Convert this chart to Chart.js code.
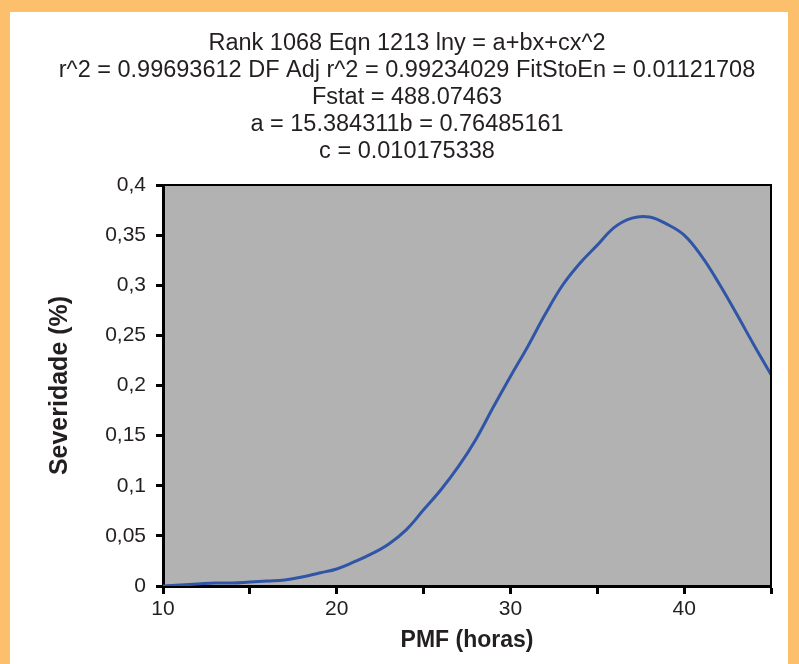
<!DOCTYPE html>
<html>
<head>
<meta charset="utf-8">
<script src="https://cdn.jsdelivr.net/npm/chart.js@4.4.1/dist/chart.umd.min.js"></script>
<style>
  html, body { margin: 0; padding: 0; }
  body { width: 799px; height: 664px; background: #fcbf6b; position: relative; overflow: hidden; }
  #panel { position: absolute; left: 10px; top: 12px; width: 778px; height: 652px; background: #fff; }
  #c { position: absolute; left: 0; top: 0; }
</style>
</head>
<body>
<div id="panel"></div>
<canvas id="c" width="799" height="664"></canvas>
<script>
const titleLines = [
  'Rank 1068 Eqn 1213 lny = a+bx+cx^2',
  'r^2 = 0.99693612 DF Adj r^2 = 0.99234029 FitStoEn = 0.01121708',
  'Fstat = 488.07463',
  'a = 15.384311b = 0.76485161',
  'c = 0.010175338'
];

// PMF (horas)
const pmf = [10, 11, 12, 13, 14, 15, 16, 17, 18, 19, 20, 21, 22, 23, 24, 25, 26, 27,
  28, 29, 30, 31, 32, 33, 34, 35, 36, 37, 38, 39, 40, 41, 42, 43, 44, 45];
// Severidade (%)
const severidade = [0.000, 0.001, 0.002, 0.003, 0.003, 0.004, 0.005, 0.006, 0.009, 0.013,
  0.017, 0.024, 0.032, 0.042, 0.056, 0.076, 0.096, 0.119, 0.146, 0.178, 0.209, 0.239,
  0.271, 0.300, 0.322, 0.340, 0.358, 0.367, 0.368, 0.361, 0.350, 0.329, 0.302, 0.272,
  0.241, 0.211];

const xTickLabels = ['10', '', '20', '', '30', '', '40', ''];
const yTickLabels = ['0', '0,05', '0,1', '0,15', '0,2', '0,25', '0,3', '0,35', '0,4'];

const FONT = "'Liberation Sans', Arial, sans-serif";
const TEXT = '#231f20';

const plotFrame = {
  id: 'plotFrame',
  beforeDraw(chart) {
    const {ctx, chartArea: a} = chart;
    ctx.save();
    ctx.fillStyle = '#b2b2b2';
    ctx.fillRect(a.left, a.top, a.right - a.left, a.bottom - a.top);
    ctx.restore();
  },
  afterDraw(chart) {
    const {ctx, chartArea: a} = chart;
    ctx.save();
    ctx.strokeStyle = '#000';
    ctx.lineWidth = 2;
    ctx.beginPath();
    ctx.moveTo(a.left, a.top);
    ctx.lineTo(a.right, a.top);
    ctx.lineTo(a.right, a.bottom);
    ctx.stroke();
    ctx.restore();
  }
};

new Chart(document.getElementById('c'), {
  type: 'line',
  data: {
    datasets: [{
      data: pmf.map((x, i) => ({x: x, y: severidade[i]})),
      borderColor: '#3155a6',
      borderWidth: 3,
      pointRadius: 0,
      tension: 0.4,
      fill: false
    }]
  },
  options: {
    responsive: false,
    animation: false,
    layout: { padding: { left: 15, right: 0 } },
    plugins: {
      legend: { display: false },
      tooltip: { enabled: false },
      title: {
        display: true,
        text: titleLines,
        color: TEXT,
        font: { family: FONT, size: 23.5, weight: 'normal', lineHeight: '27px' },
        padding: { top: 30, bottom: 20 }
      }
    },
    scales: {
      x: {
        type: 'linear',
        min: 10,
        max: 45,
        afterFit(scale) { scale.height = 78; },
        ticks: {
          stepSize: 5,
          autoSkip: false,
          maxRotation: 0,
          padding: 3,
          color: TEXT,
          font: { family: FONT, size: 21 },
          callback: (v, i) => xTickLabels[i]
        },
        grid: { drawOnChartArea: false, tickLength: 8, tickWidth: 3, tickColor: '#000' },
        border: { color: '#000', width: 3 },
        title: {
          display: true,
          text: 'PMF (horas)',
          color: TEXT,
          font: { family: FONT, size: 23, weight: 'bold' },
          padding: { top: 0, bottom: 10 }
        }
      },
      y: {
        min: 0,
        max: 0.4,
        afterFit(scale) { scale.width = 148; },
        ticks: {
          stepSize: 0.05,
          padding: 10,
          color: TEXT,
          font: { family: FONT, size: 21 },
          callback: (v, i) => yTickLabels[i]
        },
        grid: { drawOnChartArea: false, tickLength: 7, tickWidth: 3, tickColor: '#000' },
        border: { color: '#000', width: 3 },
        title: {
          display: true,
          text: 'Severidade (%)',
          color: TEXT,
          font: { family: FONT, size: 25, weight: 'bold' },
          padding: { top: 30, bottom: 0 }
        }
      },
      // empty right-hand scale, only reserves the white margin right of the plot
      yRight: {
        position: 'right',
        min: 0,
        max: 0.4,
        afterFit(scale) { scale.width = 28; },
        ticks: { display: false },
        grid: { display: false },
        border: { display: false }
      }
    }
  },
  plugins: [plotFrame]
});
</script>
</body>
</html>
